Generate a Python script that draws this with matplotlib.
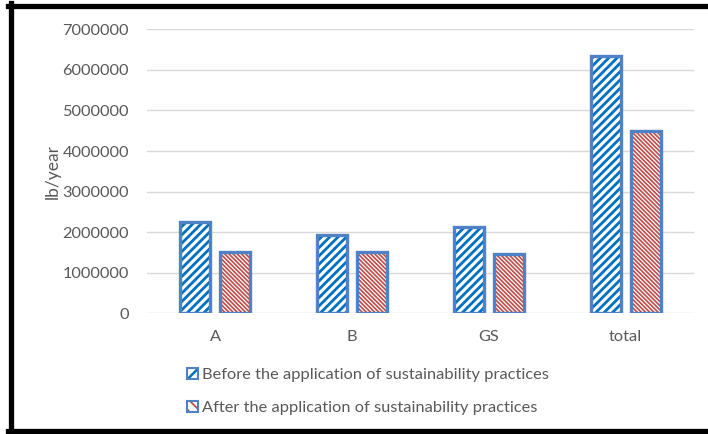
import matplotlib
matplotlib.use("Agg")
import matplotlib.pyplot as plt
import numpy as np
from matplotlib.patches import Rectangle
from matplotlib.lines import Line2D
from matplotlib.legend_handler import HandlerBase

# Data
categories = ["A", "B", "GS", "total"]
before = [2250000, 1940000, 2130000, 6330000]
after = [1510000, 1510000, 1470000, 4490000]
series_labels = ["Before the application of sustainability practices",
                 "After the application of sustainability practices"]
yticks = [0, 1000000, 2000000, 3000000, 4000000, 5000000, 6000000, 7000000]

plt.rcParams['font.family'] = ['Lato', 'DejaVu Sans']

outline_blue = "#4F81C7"
hatch_blue = "#0070C0"
hatch_red = "#C0504D"
text_gray = "#595959"

fig = plt.figure(figsize=(7.08, 4.34), dpi=100)
ax = fig.add_axes([147/708, 1-313.3/434, (694-147)/708, (313.3-29.3)/434])

x = np.arange(len(categories))
w = 0.22
off = 0.146

BLUE_HATCH = "////"
RED_HATCH = "\\" * 8


def hatched_bars(xs, vals, hcolor, hatch, hlw):
    with plt.rc_context({'hatch.linewidth': hlw}):
        bars = ax.bar(xs, vals, width=w, facecolor="white", edgecolor=hcolor,
                      hatch=hatch, linewidth=0, zorder=2)
    for b in bars:
        if hasattr(b, "set_hatch_linewidth"):
            b.set_hatch_linewidth(hlw)
    ax.bar(xs, vals, width=w, fill=False, edgecolor=outline_blue,
           linewidth=2.4, zorder=3)
    return bars


hatched_bars(x - off, before, hatch_blue, BLUE_HATCH, 2.0)
hatched_bars(x + off, after, hatch_red, RED_HATCH, 1.25)

ax.set_xlim(-0.5, len(categories) - 0.5)
ax.set_ylim(0, 7000000)
ax.set_yticks(yticks)
ax.set_yticklabels([str(v) for v in yticks])
ax.set_xticks(x)
ax.set_xticklabels(categories)
ax.tick_params(axis="both", length=0, labelsize=11.8, colors=text_gray)
ax.tick_params(axis="y", pad=13)
ax.tick_params(axis="x", pad=12)
for s in ax.spines.values():
    s.set_visible(False)
ax.grid(axis="y", color="#D9D9D9", linewidth=1)
ax.set_axisbelow(True)
ax.set_ylabel("lb/year", fontsize=12.5, color=text_gray, labelpad=1)


class SwatchHandler(HandlerBase):
    """Small hatched square framed in blue."""

    def __init__(self, hcolor, hatch, hlw):
        super().__init__()
        self.hcolor = hcolor
        self.hatch = hatch
        self.hlw = hlw

    def create_artists(self, legend, orig_handle, xdescent, ydescent,
                       width, height, fontsize, trans):
        inner = Rectangle((-xdescent, -ydescent), width, height, facecolor="white",
                          edgecolor=self.hcolor, hatch=self.hatch, linewidth=0,
                          transform=trans)
        if hasattr(inner, "set_hatch_linewidth"):
            inner.set_hatch_linewidth(self.hlw)
        frame = Rectangle((-xdescent, -ydescent), width, height, fill=False,
                          edgecolor=outline_blue, linewidth=1.5, transform=trans)
        return [inner, frame]


hb = Rectangle((0, 0), 1, 1)
hr = Rectangle((0, 0), 1, 1)
leg = fig.legend([hb, hr], series_labels,
                 handler_map={hb: SwatchHandler(hatch_blue, "//", 1.8),
                              hr: SwatchHandler(hatch_red, "\\\\\\", 1.3)},
                 loc="center", bbox_to_anchor=(368/708, 1-391.5/434),
                 frameon=False, fontsize=11.8, handlelength=0.62, handleheight=0.62,
                 handletextpad=0.25, labelspacing=1.15)
for t in leg.get_texts():
    t.set_color(text_gray)

# outer frame
fig.add_artist(Line2D([10.5/708, 10.5/708], [0, 1-3/434], transform=fig.transFigure,
                      color="black", linewidth=3.8))
fig.add_artist(Line2D([8/708, 1], [1-5.5/434, 1-5.5/434], transform=fig.transFigure,
                      color="black", linewidth=3.8))
fig.add_artist(Line2D([8/708, 1], [1-431/434, 1-431/434], transform=fig.transFigure,
                      color="black", linewidth=3.8))

fig.savefig("out.png", dpi=100)
